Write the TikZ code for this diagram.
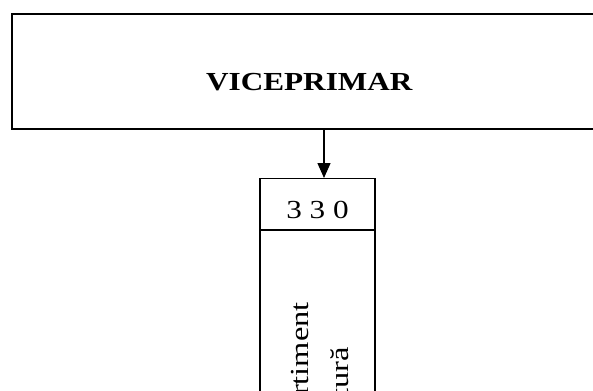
\documentclass[tikz,border=0pt]{standalone}
\usepackage{fontspec}
\setmainfont{Liberation Serif}
\usetikzlibrary{arrows.meta}

\begin{document}
\begin{tikzpicture}[x=1pt,y=-1pt,
    box/.style={draw,line width=1.6pt,inner sep=0pt},
    cell/.style={draw,line width=1.4pt,inner sep=0pt,minimum width=115pt},
    txt/.style={inner sep=0pt,font=\fontsize{26}{40}\selectfont}]
    \useasboundingbox (0,0) rectangle (593,390);
    \clip (0,0) rectangle (593,390);
    %% top box
    \node[box,anchor=north west,minimum width=595pt,minimum height=115pt] (vice) at (11,13.5) {};
    \node[txt,font=\fontsize{26}{40}\selectfont\bfseries] (vicetext) at ([yshift=-10.5pt]vice.center) {\scalebox{1.2}[1]{VICEPRIMAR}};
    %% department box
    \node[cell,anchor=north,minimum height=50.5pt] (code) at (317.5,178) {};
    \node[cell,anchor=north,minimum height=250pt] (dept) at (code.south) {};
    \node[txt] (codetext) at ([yshift=-5.75pt]code.center) {\scalebox{1.2}[1]{3 3 0}};
    \node[txt,rotate=90,align=center] (depttext) at (320,396) {\scalebox{1.25}[1]{Compartiment}\\\scalebox{1.25}[1]{Cultură}};
    %% arrow
    \coordinate (tap) at (324,128.5);
    \draw[line width=1.4pt,-{Triangle[length=15pt,width=13pt]}] (tap) -- (tap |- code.north);
\end{tikzpicture}
\end{document}
